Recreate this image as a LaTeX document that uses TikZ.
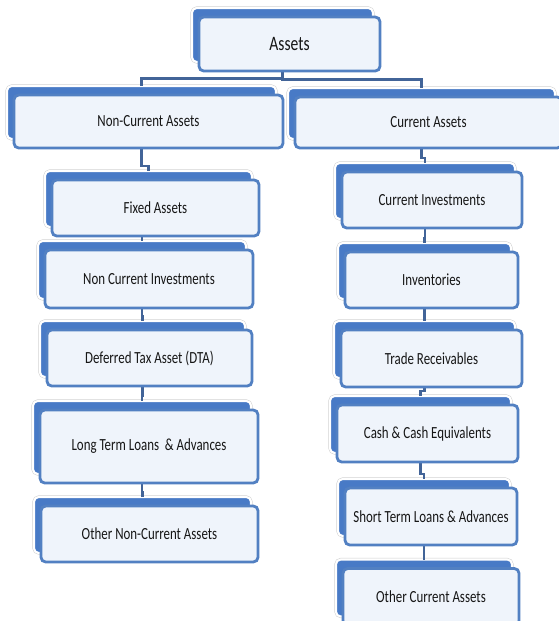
\documentclass[tikz,border=0pt]{standalone}
\usepackage{fontspec}
\setmainfont{Carlito}[FakeStretch=0.76]
\usepackage{tikz}
\usetikzlibrary{calc}

\pgfdeclarelayer{back}
\pgfdeclarelayer{links}
\pgfsetlayers{back,links,main}

\definecolor{boxBlue}{RGB}{72,122,198}
\definecolor{edgeBlue}{RGB}{82,128,194}
\definecolor{linkBlue}{RGB}{66,100,152}
\definecolor{frontFill}{RGB}{239,244,251}
\definecolor{labelGray}{RGB}{22,22,22}

\tikzset{
    frontbox/.style={fill=frontFill, draw=edgeBlue, line width=2.4pt, rounded corners=4pt,
        inner sep=0pt, outer sep=0pt, text=labelGray, font=\fontsize{14.5}{16}\selectfont},
    backbox/.style={fill=boxBlue, draw=white, line width=1.8pt, rounded corners=4pt,
        inner sep=0pt, outer sep=0pt, preaction={draw=gray!40, line width=2.6pt}},
    link/.style={draw=linkBlue, line width=2pt}
}

\begin{document}
\begin{tikzpicture}[x=0.03cm, y=-0.03cm]
        \pgfmathsetmacro{\backShiftX}{-7}
        \pgfmathsetmacro{\backShiftY}{-9}
        \pgfmathsetmacro{\jogRise}{5}

        \useasboundingbox (0,0) rectangle (558,621);

        \begin{pgfonlayer}{back}
            \node[backbox, minimum width=181*0.03cm, minimum height=54*0.03cm]
                (assets-bk) at (289.5+\backShiftX, 44+\backShiftY) {};
        \end{pgfonlayer}
        \node[frontbox, minimum width=181*0.03cm, minimum height=54*0.03cm,
            font=\fontsize{17.5}{19}\selectfont] (assets) at (289.5, 44) {Assets};

        \foreach \n/\x/\y/\w/\h/\lbl in {
            nonCurrent/148.5/121.5/269/53/Non-Current Assets,
            current/428.5/122.5/267/51/Current Assets,
            fixedAssets/155.5/208/207/56/Fixed Assets,
            ncInvest/149/279/208/58/Non Current Investments,
            deferredTax/149.5/358/205/56/Deferred Tax Asset (DTA),
            ltLoans/149/446.5/218/73/Long Term Loans~ \& Advances,
            otherNC/149.5/534/217/56/Other Non-Current Assets,
            curInvest/432/200/180/56/Current Investments,
            inventories/431.5/280/173/56/Inventories,
            tradeRec/431.5/358.5/181/57/Trade Receivables,
            cashEq/427.5/433.5/181/57/Cash \& Cash Equivalents,
            stLoans/431/516.5/172/57/Short Term Loans \& Advances,
            otherCur/431/597/176/57/Other Current Assets}
        {
            \begin{pgfonlayer}{back}
                \node[backbox, minimum width=\w*0.03cm, minimum height=\h*0.03cm]
                    (\n-bk) at (\x+\backShiftX, \y+\backShiftY) {};
            \end{pgfonlayer}
            \node[frontbox, minimum width=\w*0.03cm, minimum height=\h*0.03cm]
                (\n) at (\x, \y) {\lbl};
        }

        \begin{pgfonlayer}{links}
            \foreach \b in {nonCurrent, current}
                \draw[link] (assets-bk.south) |- ($(assets.south)!0.5!(\b-bk.north)$)
                    -| (\b-bk.north);
            \foreach \a/\b in {nonCurrent/fixedAssets, fixedAssets/ncInvest,
                ncInvest/deferredTax, deferredTax/ltLoans, ltLoans/otherNC,
                current/curInvest, curInvest/inventories, inventories/tradeRec,
                tradeRec/cashEq, cashEq/stLoans, stLoans/otherCur}
                \draw[link] (\a-bk.south) |- ($(\b-bk.north)+(0,-\jogRise)$) -- (\b-bk.north);
        \end{pgfonlayer}
    \end{tikzpicture}
\end{document}
